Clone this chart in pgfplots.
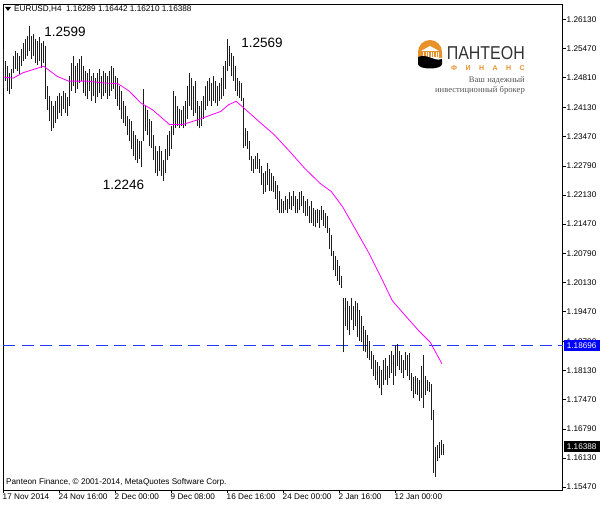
\documentclass[border=0pt]{standalone}
\usepackage{pgfplots}
\pgfplotsset{compat=1.18}
\usepackage{pgfplotstable}
\usepackage{fontspec}
\setmainfont{Liberation Sans}
\newfontfamily\serif{Liberation Serif}

\definecolor{mag}{RGB}{255,0,255}
\definecolor{pblue}{RGB}{0,0,255}
\definecolor{lblue}{RGB}{30,60,255}
\definecolor{barc}{RGB}{30,30,30}
\definecolor{logoor}{RGB}{232,145,42}
\definecolor{logogray}{RGB}{85,85,85}

% EURUSD H4 bars: index, high, low
\pgfplotstableread{
i h l
0 1.2547 1.2458
1 1.2520 1.2474
2 1.2508 1.2451
3 1.2492 1.2444
4 1.2501 1.2456
5 1.2531 1.2492
6 1.2542 1.2501
7 1.2538 1.2497
8 1.2531 1.2490
9 1.2547 1.2508
10 1.2561 1.2520
11 1.2570 1.2524
12 1.2577 1.2531
13 1.2599 1.2542
14 1.2577 1.2524
15 1.2581 1.2531
16 1.2570 1.2515
17 1.2565 1.2510
18 1.2574 1.2520
19 1.2561 1.2504
20 1.2565 1.2515
21 1.2554 1.2433
22 1.2463 1.2406
23 1.2440 1.2383
24 1.2428 1.2360
25 1.2417 1.2365
26 1.2428 1.2378
27 1.2440 1.2387
28 1.2447 1.2401
29 1.2440 1.2394
30 1.2451 1.2410
31 1.2447 1.2401
32 1.2437 1.2394
33 1.2485 1.2417
34 1.2515 1.2451
35 1.2531 1.2463
36 1.2508 1.2447
37 1.2515 1.2456
38 1.2524 1.2469
39 1.2531 1.2474
40 1.2508 1.2447
41 1.2497 1.2440
42 1.2492 1.2433
43 1.2501 1.2451
44 1.2485 1.2428
45 1.2492 1.2440
46 1.2479 1.2424
47 1.2492 1.2437
48 1.2501 1.2447
49 1.2485 1.2433
50 1.2497 1.2440
51 1.2492 1.2447
52 1.2485 1.2433
53 1.2497 1.2440
54 1.2508 1.2451
55 1.2504 1.2456
56 1.2485 1.2433
57 1.2479 1.2417
58 1.2463 1.2406
59 1.2451 1.2387
60 1.2428 1.2378
61 1.2417 1.2371
62 1.2394 1.2349
63 1.2387 1.2337
64 1.2383 1.2319
65 1.2360 1.2303
66 1.2349 1.2292
67 1.2342 1.2287
68 1.2337 1.2296
69 1.2337 1.2276
70 1.2456 1.2337
71 1.2417 1.2360
72 1.2406 1.2349
73 1.2387 1.2326
74 1.2383 1.2321
75 1.2349 1.2292
76 1.2326 1.2264
77 1.2314 1.2257
78 1.2326 1.2269
79 1.2314 1.2257
80 1.2292 1.2246
81 1.2319 1.2264
82 1.2349 1.2292
83 1.2360 1.2303
84 1.2371 1.2319
85 1.2451 1.2349
86 1.2440 1.2365
87 1.2417 1.2371
88 1.2410 1.2365
89 1.2406 1.2371
90 1.2417 1.2365
91 1.2428 1.2371
92 1.2463 1.2387
93 1.2492 1.2417
94 1.2479 1.2406
95 1.2463 1.2394
96 1.2474 1.2401
97 1.2428 1.2371
98 1.2417 1.2365
99 1.2428 1.2371
100 1.2440 1.2387
101 1.2463 1.2406
102 1.2474 1.2417
103 1.2481 1.2428
104 1.2469 1.2417
105 1.2485 1.2428
106 1.2474 1.2422
107 1.2463 1.2417
108 1.2469 1.2428
109 1.2479 1.2433
110 1.2508 1.2440
111 1.2520 1.2456
112 1.2570 1.2497
113 1.2554 1.2508
114 1.2538 1.2485
115 1.2531 1.2474
116 1.2508 1.2451
117 1.2479 1.2440
118 1.2474 1.2435
119 1.2469 1.2428
120 1.2435 1.2321
121 1.2365 1.2326
122 1.2360 1.2319
123 1.2337 1.2292
124 1.2303 1.2269
125 1.2296 1.2264
126 1.2303 1.2273
127 1.2310 1.2273
128 1.2296 1.2264
129 1.2280 1.2235
130 1.2264 1.2216
131 1.2269 1.2219
132 1.2287 1.2235
133 1.2273 1.2223
134 1.2264 1.2223
135 1.2257 1.2219
136 1.2246 1.2205
137 1.2235 1.2178
138 1.2223 1.2171
139 1.2205 1.2171
140 1.2200 1.2171
141 1.2212 1.2178
142 1.2205 1.2173
143 1.2219 1.2182
144 1.2212 1.2178
145 1.2223 1.2189
146 1.2212 1.2173
147 1.2205 1.2171
148 1.2219 1.2178
149 1.2223 1.2187
150 1.2212 1.2173
151 1.2200 1.2166
152 1.2205 1.2166
153 1.2189 1.2150
154 1.2200 1.2150
155 1.2184 1.2143
156 1.2178 1.2139
157 1.2182 1.2150
158 1.2178 1.2137
159 1.2189 1.2155
160 1.2178 1.2143
161 1.2173 1.2137
162 1.2166 1.2127
163 1.2137 1.2091
164 1.2121 1.2075
165 1.2086 1.2041
166 1.2075 1.2029
167 1.2064 1.2018
168 1.2052 1.2007
169 1.2029 1.2000
170 1.1979 1.1854
171 1.1979 1.1915
172 1.1972 1.1904
173 1.1961 1.1893
174 1.1977 1.1927
175 1.1961 1.1904
176 1.1972 1.1915
177 1.1966 1.1888
178 1.1950 1.1881
179 1.1938 1.1877
180 1.1915 1.1858
181 1.1904 1.1854
182 1.1893 1.1842
183 1.1881 1.1836
184 1.1858 1.1817
185 1.1847 1.1801
186 1.1836 1.1790
187 1.1831 1.1779
188 1.1824 1.1772
189 1.1813 1.1756
190 1.1836 1.1779
191 1.1842 1.1790
192 1.1824 1.1779
193 1.1847 1.1795
194 1.1858 1.1808
195 1.1847 1.1779
196 1.1870 1.1801
197 1.1874 1.1824
198 1.1858 1.1813
199 1.1847 1.1808
200 1.1836 1.1795
201 1.1854 1.1813
202 1.1847 1.1801
203 1.1852 1.1790
204 1.1808 1.1767
205 1.1797 1.1751
206 1.1801 1.1760
207 1.1795 1.1756
208 1.1790 1.1744
209 1.1824 1.1751
210 1.1847 1.1728
211 1.1801 1.1756
212 1.1790 1.1767
213 1.1786 1.1763
214 1.1783 1.1699
215 1.1722 1.1578
216 1.1637 1.1569
217 1.1642 1.1607
218 1.1649 1.1612
219 1.1653 1.1619
220 1.16442 1.16210
}\bars

\begin{document}
\begin{tikzpicture}[x=1pt,y=1pt]
\useasboundingbox (-3,-14) rectangle (597,490);
\fill[white] (-3,-14) rectangle (597,490);
\begin{axis}[
  at={(0,0)}, anchor=south west,
  scale only axis, width=559.5pt, height=486pt,
  xmin=-0.25, xmax=279.5, ymin=1.1540, ymax=1.2649,
  clip=false,
  axis line style={black, line width=0.8pt},
  tick align=outside, major tick length=3pt,
  tick style={black, line width=0.6pt},
  xtick pos=bottom, ytick pos=right,
  yticklabel pos=right,
  xtick={0,28,56,84,112,140,168,196},
  xticklabels={17 Nov 2014, 24 Nov 16:00, 2 Dec 00:00, 9 Dec 08:00, 16 Dec 16:00, 24 Dec 00:00, 2 Jan 16:00, 12 Jan 00:00},
  xticklabel style={anchor=north west, inner sep=0pt, xshift=-1pt, yshift=-1pt},
  ytick={1.15470,1.16130,1.16790,1.17470,1.18130,1.18790,1.19470,1.20130,1.20790,1.21470,1.22130,1.22790,1.23470,1.24130,1.24810,1.25470,1.26130},
  yticklabel style={anchor=west, inner sep=0pt, xshift=1pt,
    /pgf/number format/.cd, fixed, fixed zerofill, precision=5, assume math mode=true},
  ticklabel style={font=\fontsize{8.2}{9}\selectfont},
  scaled y ticks=false,
]
% horizontal level
\addplot[draw=lblue, line width=1.8pt, mark=none, dash pattern=on 12pt off 6.5pt] coordinates {(-0.25,1.18696) (279.5,1.18696)};

% high-low range of each bar
\addplot[draw=none, mark=none,
  error bars/.cd, y dir=plus, y explicit, error mark=none,
  error bar style={draw=barc, line width=1pt}]
  table[x=i, y=l, y error expr=\thisrow{h}-\thisrow{l}] {\bars};

% moving average
\addplot[draw=mag, line width=0.8pt, mark=none] coordinates {
(0.15,1.2482) (4.9,1.2480) (9.7,1.2492) (20.1,1.2507) (26.8,1.2484)
(32.5,1.2473) (42,1.2473) (49.7,1.2469) (57.3,1.2467) (62.9,1.2450)
(68.7,1.2423) (74.4,1.2408) (83,1.2374) (89.7,1.2374) (97.3,1.2385)
(108.7,1.2404) (112.5,1.2419) (116.3,1.2427) (120.1,1.2412) (127.7,1.2381)
(135.3,1.2351) (143,1.2313) (150.6,1.2274) (158.2,1.2240) (163.9,1.2221)
(169.6,1.2186) (177.2,1.2125) (182.9,1.2079) (188.7,1.2026) (194.4,1.1972)
(200.1,1.1942) (207.7,1.1903) (213.4,1.1877) (219.2,1.1828)
};

\node[fill=pblue, text=white, anchor=west, inner sep=0pt, minimum height=11pt, minimum width=36pt,
  font=\fontsize{8.2}{9}\selectfont] at (axis cs:279.5,1.18696) [xshift=1pt] {1.18696};
\node[fill=black, text=white, anchor=west, inner sep=0pt, minimum height=11pt, minimum width=36pt,
  font=\fontsize{8.2}{9}\selectfont] at (axis cs:279.5,1.16388) [xshift=1pt] {1.16388};
\end{axis}

% header
\fill[black] (2,483) -- (8,483) -- (5,479) -- cycle;
\node[anchor=west, inner sep=0pt, font=\fontsize{8.2}{9}\selectfont] at (11,480.5)
  {EURUSD,H4\ \ 1.16289 1.16442 1.16210 1.16388};
% footer
\node[anchor=west, inner sep=0pt, font=\fontsize{8.2}{9}\selectfont] at (3,8)
  {Panteon Finance, \textcopyright\ 2001-2014, MetaQuotes Software Corp.};

% annotations
\node[font=\fontsize{13.5}{15}\selectfont] at (62,458) {1.2599};
\node[font=\fontsize{13.5}{15}\selectfont] at (259,447) {1.2569};
\node[font=\fontsize{13.5}{15}\selectfont] at (120.5,305.5) {1.2246};

% logo
\fill[logoor] (415,432) -- (415,438) arc (180:0:12) -- (439,432) -- cycle;
\fill[white] (418.5,432) rectangle (435.5,438);
\foreach \c in {419.5,422,424.5,427,429.5,432,434.5}
  \fill[logoor] (\c-0.6,432.5) rectangle (\c+0.6,438);
\fill[white] (418,439) -- (427,444) -- (436,439) -- cycle;
\fill[black] (415,433) .. controls (425,437) and (430,428) .. (439,431) -- (439,426) .. controls (439,420) and (415,420) .. (415,426) -- cycle;
\node[anchor=south east, inner sep=0pt, text=black!80] at (522,430)
  {\resizebox{78pt}{13pt}{ПАНТЕОН}};
\node[anchor=south east, inner sep=0pt, text=logoor, font=\bfseries\fontsize{7}{8}\selectfont] at (522,419.5)
  {Ф\hspace{8.5pt}И\hspace{8.5pt}Н\hspace{8.5pt}А\hspace{8.5pt}Н\hspace{8.5pt}С};
\node[anchor=east, inner sep=0pt, text=logogray, font=\serif\fontsize{8.6}{9}\selectfont] at (522,409.5) {Ваш надежный};
\node[anchor=east, inner sep=0pt, text=logogray, font=\serif\fontsize{8.6}{9}\selectfont] at (522,399.5) {инвестиционный брокер};
\end{tikzpicture}
\end{document}
